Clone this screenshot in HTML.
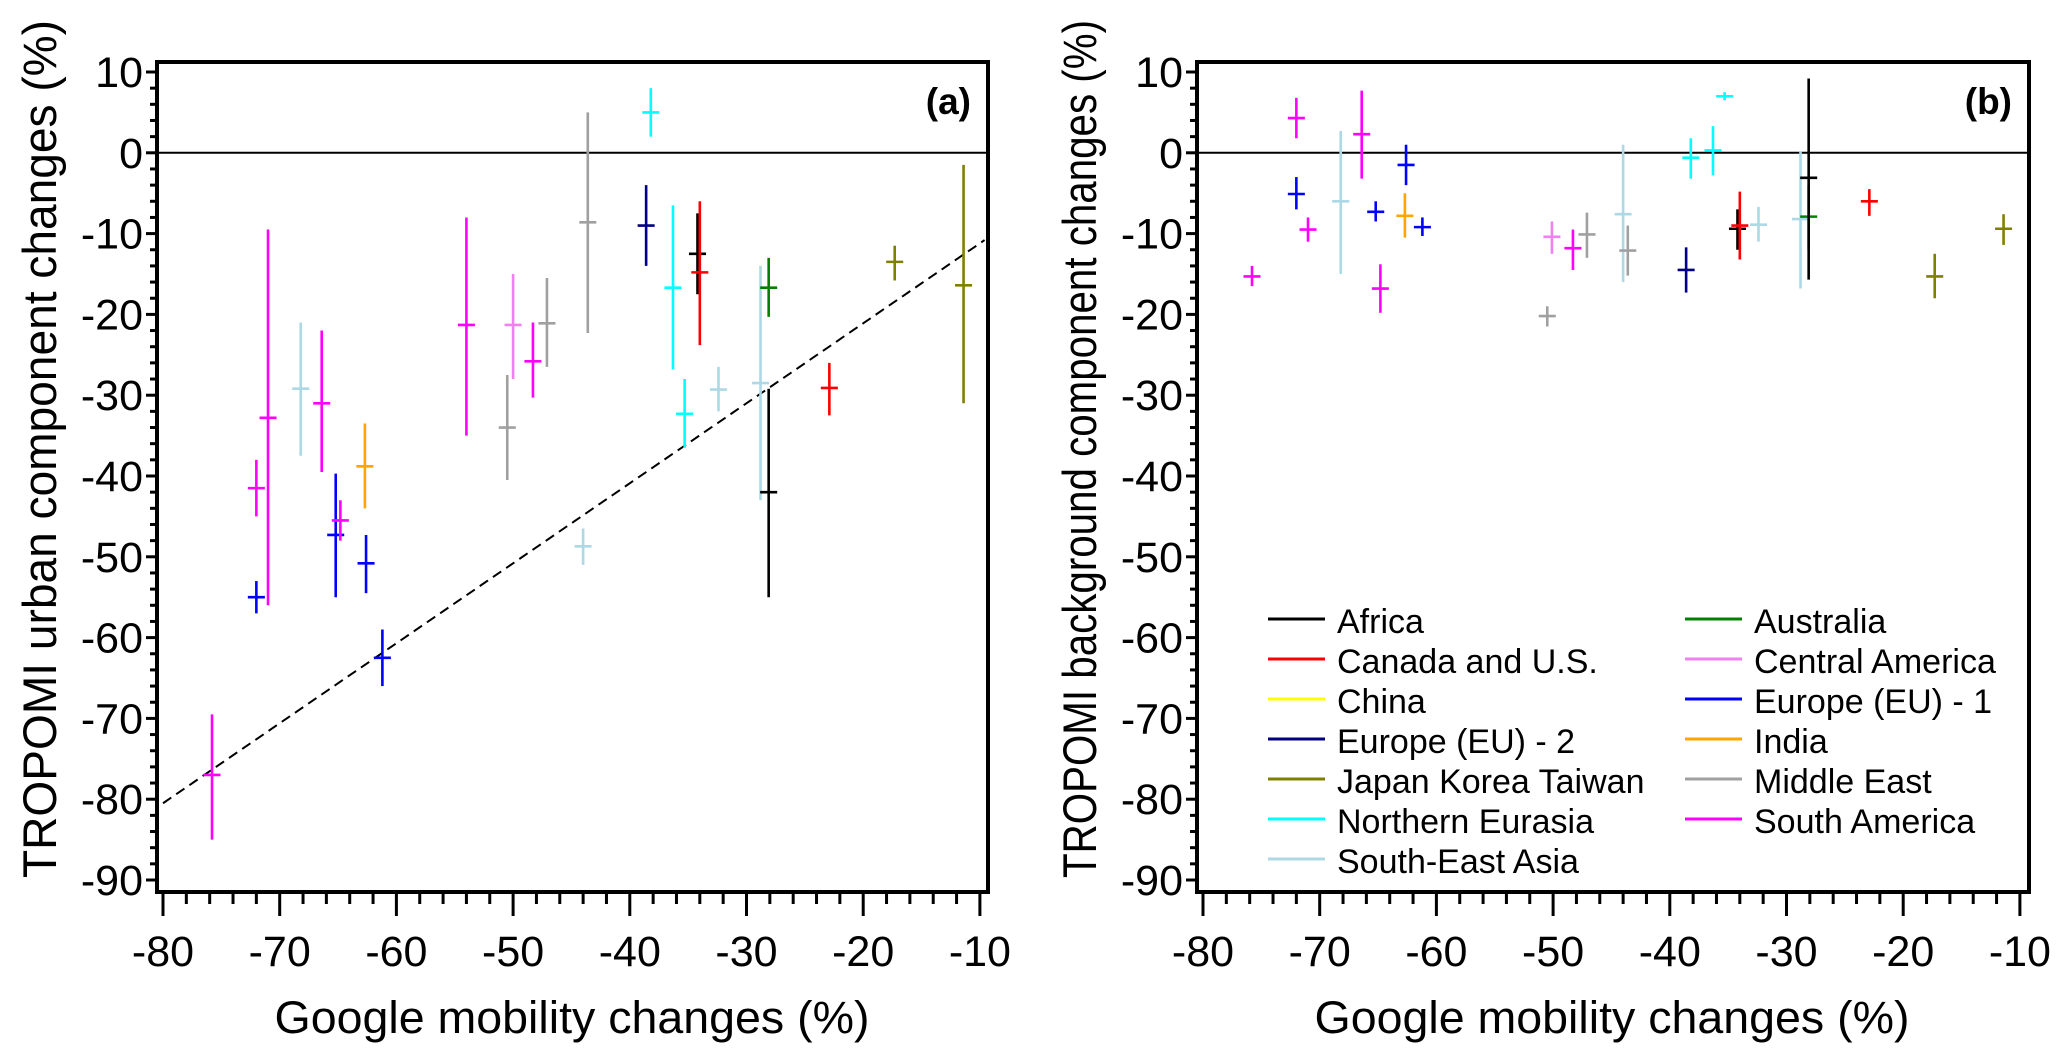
<!DOCTYPE html>
<html><head><meta charset="utf-8"><style>
html,body{margin:0;padding:0;background:#fff;}
svg{display:block;font-family:"Liberation Sans",Arial,sans-serif;}
</style></head><body>
<svg id="fig" width="2067" height="1063" viewBox="0 0 2067 1063" xmlns="http://www.w3.org/2000/svg"></svg>
<script>
const NS='http://www.w3.org/2000/svg';
// Region colors
const regionNames=['Africa','Australia','Canada and U.S.','Central America','China','Europe (EU) - 1','Europe (EU) - 2','India','Japan Korea Taiwan','Middle East','Northern Eurasia','South America','South-East Asia'];
const regionColors=['#000000','#008000','#ff0000','#ee82ee','#ffff00','#0000ff','#000080','#ffa500','#808000','#a0a0a0','#00ffff','#ff00ff','#add8e6'];
// Panel (a) data: region, mobility x, urban change y, low, high
const aRegion=['South America','South America','Europe (EU) - 1','South America','South-East Asia','South America','Europe (EU) - 1','South America','India','Europe (EU) - 1','Europe (EU) - 1','South America','Middle East','Central America','South America','Middle East','Middle East','South-East Asia','Northern Eurasia','Europe (EU) - 2','Northern Eurasia','Africa','Canada and U.S.','Northern Eurasia','South-East Asia','South-East Asia','Australia','Africa','Canada and U.S.','Japan Korea Taiwan','Japan Korea Taiwan'];
const aX=[-75.8,-72,-72,-71,-68.2,-66.4,-65.2,-64.8,-62.7,-62.6,-61.2,-54,-50.5,-50,-48.3,-47.1,-43.6,-44,-38.2,-38.6,-36.3,-34.2,-34,-35.3,-32.4,-28.8,-28.1,-28.1,-22.9,-17.3,-11.4];
const aY=[-77,-41.5,-55,-32.8,-29.2,-31,-47.3,-45.5,-38.8,-50.8,-62.5,-21.3,-34,-21.3,-25.8,-21.1,-8.6,-48.7,5,-9,-16.7,-12.5,-14.8,-32.3,-29.3,-28.5,-16.7,-42,-29.1,-13.5,-16.4];
const aLo=[-85,-45,-57,-56,-37.5,-39.5,-55,-48,-44,-54.5,-66,-35,-40.5,-28,-30.3,-26.5,-22.3,-51,2,-14,-26.8,-17.5,-23.8,-36.5,-32,-43,-20.3,-55,-32.5,-15.8,-31];
const aHi=[-69.5,-38,-53,-9.5,-21,-22,-39.7,-43,-33.5,-47.3,-59,-8,-27.5,-15,-21,-15.5,5,-46.5,8,-4,-6.5,-7.5,-6,-28,-26.5,-14,-13,-29.2,-26,-11.5,-1.5];
// Panel (b) data
const bRegion=['South America','South America','Europe (EU) - 1','South America','South-East Asia','South America','South America','Europe (EU) - 1','India','Europe (EU) - 1','Europe (EU) - 1','Middle East','Central America','South America','Middle East','South-East Asia','Middle East','Europe (EU) - 2','Northern Eurasia','Northern Eurasia','Northern Eurasia','Africa','Canada and U.S.','South-East Asia','South-East Asia','Australia','Africa','Canada and U.S.','Japan Korea Taiwan','Japan Korea Taiwan'];
const bX=[-75.8,-72,-72,-71,-68.2,-66.4,-64.8,-65.2,-62.7,-62.6,-61.2,-50.5,-50.1,-48.3,-47.1,-44,-43.6,-38.6,-38.2,-36.3,-35.3,-34.2,-34,-32.4,-28.8,-28.1,-28.1,-22.9,-17.3,-11.4];
const bY=[-15.3,4.3,-5.1,-9.5,-6,2.3,-16.8,-7.3,-7.8,-1.5,-9.2,-20.2,-10.4,-11.8,-10.1,-7.6,-12.1,-14.5,-0.6,0.3,7,-9.4,-9,-8.9,-8.2,-7.9,-3.1,-6,-15.3,-9.4];
const bLo=[-16.5,1.8,-7,-11,-15,-3.2,-19.8,-8.5,-10.5,-4,-10.3,-21.5,-12.5,-14.5,-13,-16,-15.2,-17.3,-3.2,-2.8,6.5,-12,-13.2,-11,-16.8,-12,-15.7,-7.8,-18,-11.4];
const bHi=[-14,6.8,-3,-8,2.7,7.7,-13.8,-6,-5,1,-8,-19,-8.5,-9.5,-7.4,1,-9,-11.7,1.8,3.3,7.5,-7,-4.8,-6.7,0.2,-4,9.2,-4.5,-12.5,-7.6];
const xTicks=[-80,-70,-60,-50,-40,-30,-20,-10];
const yTicks=[10,0,-10,-20,-30,-40,-50,-60,-70,-80,-90];
// regression line panel (a)
const regSlope=0.99, regIntercept=-1.3, regX=[-80,-9.6];

const svg=document.getElementById('fig');
function el(tag,attrs,parent){const e=document.createElementNS(NS,tag);for(const k in attrs)e.setAttribute(k,attrs[k]);(parent||svg).appendChild(e);return e;}
function colorOf(r){return regionColors[regionNames.indexOf(r)];}

function panel(id,off,xs,ys,lo,hi,regs,ytitle,label,withReg){
  const g=el('g',{});
  
  
  const X=v=>off+163+(v+80)*11.67;
  const Y=v=>72+(10-v)*8.08;
  const L=off+157,T=62,B=892;
  const right = id==='a'?988:2029;
  const z=el('line',{x1:L,x2:right,y1:Y(0),y2:Y(0),stroke:'#000','stroke-width':2},g);
  
  
  for(let v=-90;v<=10;v+=2){
    const major=(v%10===0);
    const t=el('line',{x1:L-(major?11:7),x2:L,y1:Y(v),y2:Y(v),stroke:'#000','stroke-width':3},g);
    
    
  }
  yTicks.forEach(v=>{
    const t=el('text',{x:L-14,y:Y(v)+15,'text-anchor':'end','font-size':43},g);
    t.textContent=v;
    
    
  });
  for(let v=-80;v<=-10;v+=2){
    const major=(v%10===0);
    const t=el('line',{x1:X(v),x2:X(v),y1:B,y2:B+(major?24:12),stroke:'#000','stroke-width':3},g);
    
    
  }
  xTicks.forEach(v=>{
    const t=el('text',{x:X(v),y:966,'text-anchor':'middle','font-size':43},g);
    t.textContent=v;
    
    
  });
  if(withReg){
    const r=el('line',{x1:X(regX[0]),y1:Y(regSlope*regX[0]+regIntercept),x2:X(regX[1]),y2:Y(regSlope*regX[1]+regIntercept),stroke:'#000','stroke-width':2,'stroke-dasharray':'10,6'},g);
    
    
  }
  xs.forEach((x,i)=>{
    const c=colorOf(regs[i]);
    const pg=el('g',{stroke:c,'stroke-width':2.6},g);
    
    
    el('line',{x1:X(x),x2:X(x),y1:Y(lo[i]),y2:Y(hi[i])},pg);
    el('line',{x1:X(x-0.73),x2:X(x+0.73),y1:Y(ys[i]),y2:Y(ys[i])},pg);
  });
  const f=el('rect',{x:L,y:T,width:right-L,height:B-T,fill:'none',stroke:'#000','stroke-width':4},g);
  
  
  const lb=el('text',{x:right-17,y:114,'text-anchor':'end','font-size':37,'font-weight':'bold'},g);
  lb.textContent=label;
  
  
  const xt=el('text',{x:off+572,y:1033,'text-anchor':'middle','font-size':45,textLength:595,lengthAdjust:'spacingAndGlyphs'},g);
  xt.textContent='Google mobility changes (%)';
  
  
  const cx=off+56;
  const yt=el('text',{x:cx,y:449,'text-anchor':'middle','font-size':47,transform:`rotate(-90 ${cx} 449)`,textLength:858,lengthAdjust:'spacingAndGlyphs'},g);
  yt.textContent=ytitle;
  
  
}
panel('a',0,aX,aY,aLo,aHi,aRegion,'TROPOMI urban component changes (%)','(a)',true);
panel('b',1040,bX,bY,bLo,bHi,bRegion,'TROPOMI background component changes (%)','(b)',false);

// legend
const legLeft=['Africa','Canada and U.S.','China','Europe (EU) - 2','Japan Korea Taiwan','Northern Eurasia','South-East Asia'];
const legRight=['Australia','Central America','Europe (EU) - 1','India','Middle East','South America'];
const lg=el('g',{});


function legItem(name,x,i){
  const y=619+i*40;
  const it=el('g',{},lg);
  
  
  el('line',{x1:x,x2:x+57,y1:y,y2:y,stroke:colorOf(name),'stroke-width':3},it);
  const t=el('text',{x:x+69,y:y+14,'font-size':34},it);
  t.textContent=name;
}
legLeft.forEach((n,i)=>legItem(n,1268,i));
legRight.forEach((n,i)=>legItem(n,1685,i));
</script>
</body></html>
